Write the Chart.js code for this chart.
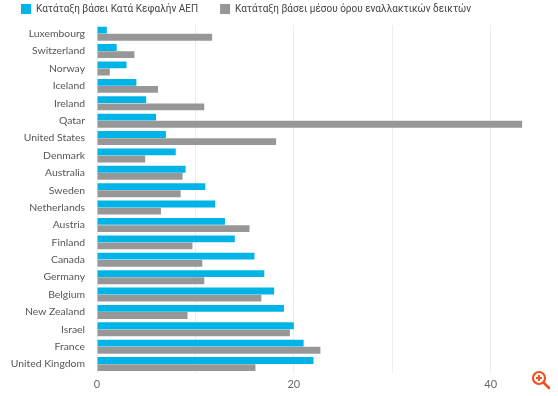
<!DOCTYPE html>
<html lang="el">
<head>
  <meta charset="UTF-8">
  <title>Κατάταξη χωρών</title>
  <script src="https://cdn.jsdelivr.net/npm/chart.js@4.4.0/dist/chart.umd.min.js"></script>
  <style>
    body { margin: 0; background: #fff; }
    #wrap { position: relative; width: 558px; height: 396px; }
    #zoomIcon { position: absolute; left: 531px; top: 370px; }
  </style>
</head>
<body>
  <div id="wrap">
    <canvas id="myChart" width="558" height="396"></canvas>
    <svg id="zoomIcon" width="20" height="20" viewBox="0 0 20 20">
      <circle cx="8" cy="8" r="6" fill="none" stroke="#f04e23" stroke-width="2.2"/>
      <line x1="12.5" y1="12.5" x2="18" y2="18" stroke="#f04e23" stroke-width="2.6" stroke-linecap="round"/>
      <line x1="5" y1="8" x2="11" y2="8" stroke="#f04e23" stroke-width="2"/>
      <line x1="8" y1="5" x2="8" y2="11" stroke="#f04e23" stroke-width="2"/>
    </svg>
  </div>

  <script>
    // données
    var countries = ['Luxembourg', 'Switzerland', 'Norway', 'Iceland', 'Ireland', 'Qatar',
      'United States', 'Denmark', 'Australia', 'Sweden', 'Netherlands', 'Austria', 'Finland',
      'Canada', 'Germany', 'Belgium', 'New Zealand', 'Israel', 'France', 'United Kingdom'];
    var gdpRank = [1, 2, 3, 4, 5, 6, 7, 8, 9, 11, 12, 13, 14, 16, 17, 18, 19, 20, 21, 22];
    var altRank = [11.7, 3.8, 1.3, 6.2, 10.9, 43.2, 18.2, 4.9, 8.7, 8.5, 6.5, 15.5, 9.7, 10.7,
      10.9, 16.7, 9.2, 19.6, 22.7, 16.1];
    var xTicks = [0, 20, 40];

    var seriesNames = ['Κατάταξη βάσει Κατά Κεφαλήν ΑΕΠ', 'Κατάταξη βάσει μέσου όρου εναλλακτικών δεικτών'];

    // légende : espacement horizontal large, mais collée en haut
    var legendTweak = {
      id: 'legendTweak',
      beforeInit: function (chart) {
        var fit = chart.legend.fit;
        chart.legend.fit = function () {
          fit.bind(chart.legend)();
          this.height = 25;
        };
      },
      afterLayout: function (chart) {
        chart.legend.left -= 9;
        chart.legend.right -= 9;
        chart.legend.top -= 18;
      }
    };

    var ctx = document.getElementById('myChart').getContext('2d');
    var myChart = new Chart(ctx, {
      type: 'bar',
      data: {
        labels: countries,
        datasets: [{
          label: seriesNames[0],
          data: gdpRank,
          backgroundColor: '#00b4e8'
        }, {
          label: seriesNames[1],
          data: altRank,
          backgroundColor: '#979797'
        }]
      },
      plugins: [legendTweak],
      options: {
        indexAxis: 'y',
        responsive: false,
        animation: false,
        layout: { padding: { left: 8, right: 28, top: 0, bottom: 0 } },
        datasets: { bar: { categoryPercentage: 0.82, barPercentage: 0.96 } },
        plugins: {
          tooltip: { enabled: false },
          legend: {
            position: 'top',
            align: 'start',
            labels: {
              boxWidth: 10,
              boxHeight: 10,
              padding: 22,
              color: '#444',
              font: { family: 'Roboto', size: 10 }
            }
          }
        },
        scales: {
          x: {
            min: 0,
            max: 44,
            grid: { color: '#ededed', drawTicks: false },
            border: { display: false },
            ticks: {
              stepSize: 10,
              includeBounds: false,
              padding: 5,
              color: '#666',
              font: { family: 'Lato', size: 11 },
              callback: function (v) { return xTicks.indexOf(v) >= 0 ? v : ''; }
            }
          },
          y: {
            afterFit: function (scale) { scale.width = 89; },
            grid: { display: false },
            border: { display: false },
            ticks: {
              padding: 4,
              color: '#555',
              font: { family: 'Lato', size: 10.4 }
            }
          }
        }
      }
    });
  </script>
</body>
</html>
